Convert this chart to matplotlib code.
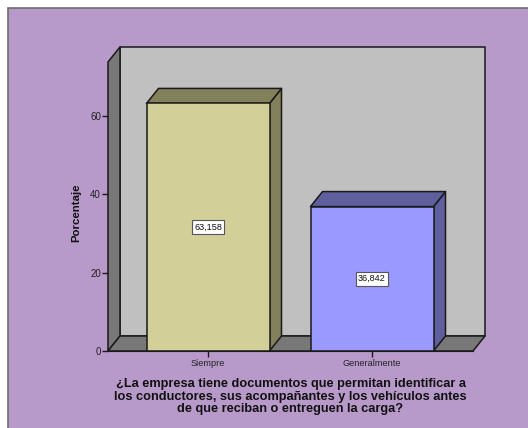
import matplotlib
matplotlib.use('Agg')
from matplotlib import pyplot as plt
from matplotlib.patches import Polygon, Rectangle

categories = ['Siempre', 'Generalmente']
values = [63.158, 36.842]
value_labels = ['63,158', '36,842']
y_ticks = [0, 20, 40, 60]
front_colors = ['#d3cf99', '#9999ff']
side_colors = ['#83805c', '#5f5f9e']
top_colors = ['#83805c', '#5f5f9e']

W, H = 528, 428
BG = '#b89aca'
LINE = '#1a1a1a'

plt.rcParams['font.family'] = ['Liberation Sans', 'DejaVu Sans']

fig = plt.figure(figsize=(W / 100, H / 100), dpi=100, facecolor='white')

# marco exterior
fig.add_artist(Rectangle((8 / W, -0.01), 1, 1.01 - 8 / H, transform=fig.transFigure,
                         facecolor=BG, edgecolor='#6e6e6e', linewidth=1.2, zorder=-5))

# plano frontal del grafico en pixeles
left, right, bottom, top = 108, 473, 351, 62
ax = fig.add_axes([left / W, 1 - bottom / H, (right - left) / W, (bottom - top) / H])
ax.patch.set_alpha(0)
ppx = 3.92     # pixeles por unidad en y
ppc = 164.0    # pixeles por categoria en x
x0 = (left - 208) / ppc
ax.set_xlim(x0, x0 + (right - left) / ppc)
ax.set_ylim(0, (bottom - top) / ppx)
dx = 12 / ppc
dy = 15 / ppx
xa, xb = ax.get_xlim()
ya, yb = ax.get_ylim()


def poly(pts, color, z=2):
    ax.add_patch(Polygon(pts, closed=True, facecolor=color, edgecolor=LINE,
                         linewidth=1.1, clip_on=False, zorder=z, joinstyle='round'))


# paredes y suelo
poly([(xa + dx, ya + dy), (xb + dx, ya + dy), (xb + dx, yb + dy), (xa + dx, yb + dy)], '#c0c0c0', 1)
poly([(xa, ya), (xa + dx, ya + dy), (xa + dx, yb + dy), (xa, yb)], '#787878', 1)
poly([(xa, ya), (xa + dx, ya + dy), (xb + dx, ya + dy), (xb, ya)], '#787878', 1)

bar_w = 123 / ppc
for i, v in enumerate(values):
    l, r = i - bar_w / 2, i + bar_w / 2
    poly([(r, 0), (r + dx, dy), (r + dx, v + dy), (r, v)], side_colors[i], 3)
    poly([(l, v), (l + dx, v + dy), (r + dx, v + dy), (r, v)], top_colors[i], 3)
    poly([(l, 0), (r, 0), (r, v), (l, v)], front_colors[i], 4)
    ax.text(i, v / 2, value_labels[i], ha='center', va='center', fontsize=6.6, color='#111111',
            zorder=6, bbox=dict(boxstyle='square,pad=0.25', facecolor='white',
                                edgecolor='#555555', linewidth=0.8))

for s in ['top', 'right']:
    ax.spines[s].set_visible(False)
ax.spines['left'].set_visible(False)
ax.spines['bottom'].set_color(LINE)
ax.spines['bottom'].set_zorder(5)
ax.set_xticks(range(len(categories)))
ax.set_xticklabels(categories, fontsize=6.6, color='#222222')
ax.set_yticks(y_ticks)
ax.tick_params(axis='x', length=4, width=1, color=LINE, pad=1.5)
ax.tick_params(axis='y', length=4.5, width=1, color=LINE, labelsize=7, labelcolor='#222222', pad=0.5)

fig.text(76.5 / W, 1 - 213 / H, 'Porcentaje', rotation=90, ha='center', va='center',
         fontsize=8.2, fontweight='bold', color='#111111')
fig.text(290.5 / W, 1 - 396.7 / H,
         '¿La empresa tiene documentos que permitan identificar a\n'
         'los conductores, sus acompañantes y los vehículos antes\n'
         'de que reciban o entreguen la carga?',
         ha='center', va='center', fontsize=9.2, fontweight='bold', color='#111111', linespacing=1.05)

fig.savefig('out.png', dpi=100, facecolor=fig.get_facecolor())
